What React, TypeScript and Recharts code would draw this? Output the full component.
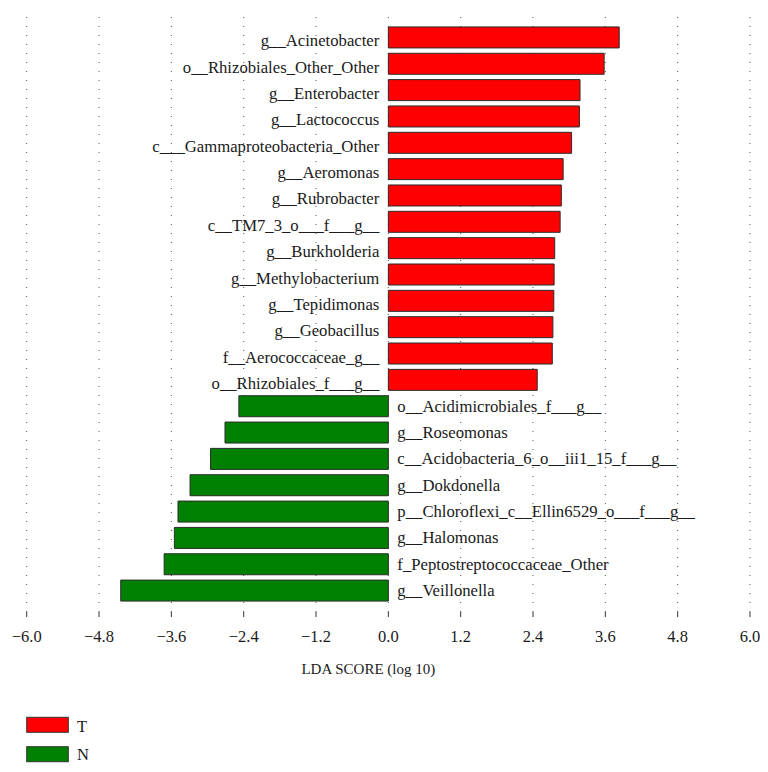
import { BarChart, Bar, Cell, XAxis, YAxis, CartesianGrid, LabelList, Label, Legend } from "recharts";

const taxa = [
    "g__Acinetobacter",
    "o__Rhizobiales_Other_Other",
    "g__Enterobacter",
    "g__Lactococcus",
    "c___Gammaproteobacteria_Other",
    "g__Aeromonas",
    "g__Rubrobacter",
    "c__TM7_3_o___f___g__",
    "g__Burkholderia",
    "g__Methylobacterium",
    "g__Tepidimonas",
    "g__Geobacillus",
    "f__Aerococcaceae_g__",
    "o__Rhizobiales_f___g__",
    "o__Acidimicrobiales_f___g__",
    "g__Roseomonas",
    "c__Acidobacteria_6_o__iii1_15_f___g__",
    "g__Dokdonella",
    "p__Chloroflexi_c__Ellin6529_o___f___g__",
    "g__Halomonas",
    "f_Peptostreptococcaceae_Other",
    "g__Veillonella",
];

const ldaScores = [
    3.83, 3.58, 3.18, 3.17, 3.04, 2.9, 2.87, 2.85, 2.76, 2.75, 2.745, 2.73, 2.72, 2.47,
    -2.48, -2.71, -2.95, -3.29, -3.49, -3.55, -3.72, -4.44,
];

const groups = [
    "T", "T", "T", "T", "T", "T", "T", "T", "T", "T", "T", "T", "T", "T",
    "N", "N", "N", "N", "N", "N", "N", "N",
];

const groupNames = ["T", "N"];
const groupColors: Record<string, string> = { T: "#ff0000", N: "#008000" };

const xTicks = [-6, -4.8, -3.6, -2.4, -1.2, 0, 1.2, 2.4, 3.6, 4.8, 6];

const data = taxa.map((name, i) => ({ name, lda: ldaScores[i], group: groups[i] }));

const FONT = "'Liberation Serif', 'Times New Roman', serif";
const INK = "#1a1a1a";

const fmtTick = (v: number) => (v < 0 ? "\u2212" + Math.abs(v).toFixed(1) : v.toFixed(1));

const BottomTick = ({ x, y, payload }: any) => (
    <g>
        <line x1={x} x2={x} y1={y} y2={y + 5} stroke="#333" strokeWidth={1} />
        <text x={x} y={y + 30} textAnchor="middle" fontFamily={FONT} fontSize={16.5} fill={INK}>
            {fmtTick(payload.value)}
        </text>
    </g>
);

const TopTick = ({ x, y }: any) => (
    <line x1={x} x2={x} y1={y - 5} y2={y} stroke="#333" strokeWidth={1} />
);

const AxisTitle = ({ viewBox }: any) => {
    if (!viewBox) return null;
    return (
        <text
            x={viewBox.x + viewBox.width / 2 - 20}
            y={viewBox.y + 62}
            textAnchor="middle"
            fontFamily={FONT}
            fontSize={15}
            fill={INK}
        >
            LDA SCORE (log 10)
        </text>
    );
};

// names sit left of the red bars and right of the green ones
const BarName = ({ x, y, width, height, index }: any) => {
    const v = ldaScores[index];
    const left = Math.min(x, x + width);
    const right = Math.max(x, x + width);
    const cy = y + height / 2;
    if (v >= 0) {
        return (
            <text x={left - 9} y={cy + 9} textAnchor="end" fontFamily={FONT} fontSize={16.7} fill={INK}>
                {taxa[index]}
            </text>
        );
    }
    return (
        <text x={right + 9} y={cy + 5.5} textAnchor="start" fontFamily={FONT} fontSize={16.7} fill={INK}>
            {taxa[index]}
        </text>
    );
};

const GroupLegend = () => (
    <svg width={120} height={56}>
        {groupNames.map((g, i) => (
            <g key={g}>
                <rect x={18.7} y={1.3 + i * 29.4} width={41.6} height={15} fill={groupColors[g]} stroke="#333" strokeWidth={1} />
                <text x={69} y={15.7 + i * 28.4} fontFamily={FONT} fontSize={16.5} fill={INK}>
                    {g}
                </text>
            </g>
        ))}
    </svg>
);

export default function App() {
    return (
        <BarChart
            width={752}
            height={756}
            data={data}
            layout="vertical"
            barCategoryGap="10%"
            margin={{ top: 3, right: 10, left: 18.7, bottom: 82 }}
        >
            <CartesianGrid vertical horizontal={false} stroke="#555" strokeDasharray="1 8" />
            <XAxis
                type="number"
                domain={[-6, 6]}
                ticks={xTicks}
                interval={0}
                height={70}
                axisLine={false}
                tickLine={false}
                tickSize={0}
                tickMargin={0}
                tick={<BottomTick />}
            >
                <Label content={<AxisTitle />} />
            </XAxis>
            <XAxis
                xAxisId="top"
                orientation="top"
                type="number"
                domain={[-6, 6]}
                ticks={xTicks}
                interval={0}
                height={6}
                axisLine={false}
                tickLine={false}
                tickSize={0}
                tickMargin={0}
                tick={<TopTick />}
            />
            <YAxis type="category" dataKey="name" hide padding={{ top: 7.3, bottom: 8.2 }} />
            <Legend
                layout="horizontal"
                verticalAlign="middle"
                align="center"
                wrapperStyle={{ top: 708, left: 0, width: 120, height: 56 }}
                content={<GroupLegend />}
            />
            <Bar dataKey="lda" isAnimationActive={false} stroke="#2b2b2b" strokeWidth={1}>
                {data.map((d) => (
                    <Cell key={d.name} fill={groupColors[d.group]} />
                ))}
                <LabelList dataKey="name" content={<BarName />} />
            </Bar>
        </BarChart>
    );
}
